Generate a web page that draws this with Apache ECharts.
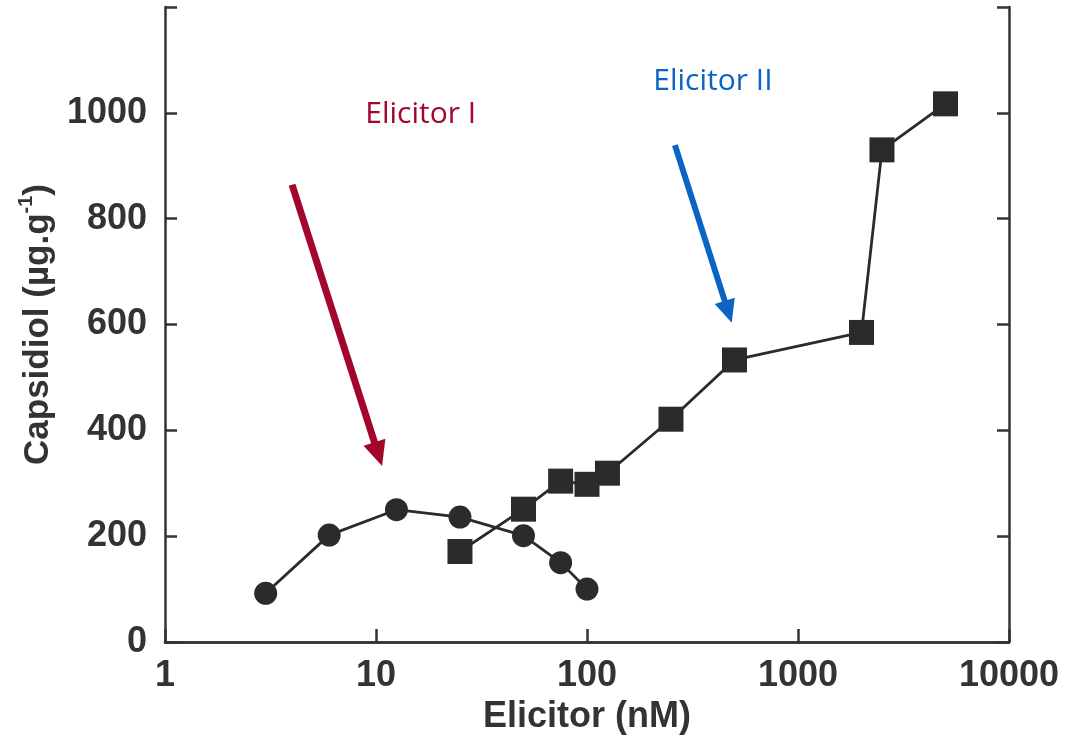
<!DOCTYPE html>
<html>
<head>
<meta charset="utf-8">
<script src="https://cdn.jsdelivr.net/npm/echarts@6/dist/echarts.min.js"></script>
<style>html,body{margin:0;padding:0;background:#fff}#c{width:1070px;height:738px}</style>
</head>
<body>
<div id="c"></div>
<script>
// Elicitor I (circles)
const elicitor1X = [3, 6, 12.5, 25, 50, 75, 100];
const elicitor1Y = [92, 202, 250, 236, 201, 150, 100];
// Elicitor II (squares)
const elicitor2X = [25, 50, 75, 100, 125, 250, 500, 2000, 2500, 5000];
const elicitor2Y = [171, 251, 304, 298, 319, 421, 533, 585, 930, 1017];
// axis ticks
const xTickLabels = [1, 10, 100, 1000, 10000];
const yTickLabels = [0, 200, 400, 600, 800, 1000];
// annotations (data coordinates)
const arrow1 = [[4.0, 864], [10.25, 355]];
const arrow2 = [[261, 939], [467, 624]];
const label1 = { text: 'Elicitor I', at: [16.3, 996] };
const label2 = { text: 'Elicitor II', at: [395, 1059] };

const ink = '#2b2b2b';
const red = '#A3062B';
const blue = '#0A64C4';
const tickFont = { fontFamily: 'Liberation Sans', fontWeight: 'bold', fontSize: 36, color: '#333' };

const chart = echarts.init(document.getElementById('c'));
chart.setOption({
  animation: false,
  backgroundColor: '#fff',
  grid: { left: 165, right: 61, top: 7, bottom: 96, containLabel: false, outerBoundsMode: 'none' },
  xAxis: [{
    type: 'log', logBase: 10, min: 1, max: 10000, position: 'bottom',
    axisLine: { lineStyle: { color: '#333', width: 2.5 } },
    axisTick: { inside: true, length: 13, lineStyle: { color: '#333', width: 2.5 } },
    axisLabel: Object.assign({ margin: 16, formatter: v => xTickLabels.includes(Math.round(v)) ? String(Math.round(v)) : '' }, tickFont),
    splitLine: { show: false },
    name: 'Elicitor (nM)', nameLocation: 'middle', nameGap: 68,
    nameTextStyle: { fontFamily: 'Liberation Sans', fontWeight: 'bold', fontSize: 36, color: '#333', verticalAlign: 'middle' }
  }, {
    type: 'log', logBase: 10, min: 1, max: 10000, position: 'top',
    axisLine: { lineStyle: { color: '#333', width: 2.5 } },
    axisTick: { show: false }, axisLabel: { show: false }, splitLine: { show: false }
  }],
  yAxis: [{
    type: 'value', min: 0, max: 1200, interval: 200, position: 'left',
    axisLine: { show: true, lineStyle: { color: '#333', width: 2.5 } },
    axisTick: { inside: true, length: 12, lineStyle: { color: '#333', width: 2.5 } },
    axisLabel: Object.assign({ margin: 18, formatter: v => yTickLabels.includes(v) ? String(v) : '' }, tickFont),
    splitLine: { show: false },
    name: '{n|Capsidiol (µg.g}{s|-1}{n|)}', nameLocation: 'middle', nameGap: 122,
    nameTextStyle: {
      verticalAlign: 'middle',
      rich: {
        n: { fontFamily: 'Liberation Sans', fontWeight: 'bold', fontSize: 35, color: '#333', verticalAlign: 'bottom', lineHeight: 40 },
        s: { fontFamily: 'Liberation Sans', fontWeight: 'bold', fontSize: 20, color: '#333', verticalAlign: 'top', lineHeight: 40 }
      }
    }
  }, {
    type: 'value', min: 0, max: 1200, interval: 200, position: 'right',
    axisLine: { show: true, lineStyle: { color: '#333', width: 2.5 } },
    axisTick: { inside: true, length: 12, lineStyle: { color: '#333', width: 2.5 } },
    axisLabel: { show: false }, splitLine: { show: false }
  }],
  series: [{
    name: 'Elicitor I', type: 'line',
    data: elicitor1X.map((x, i) => [x, elicitor1Y[i]]),
    symbol: 'circle', symbolSize: 23,
    lineStyle: { color: ink, width: 2.8 },
    itemStyle: { color: ink },
    z: 3,
    markLine: {
      silent: true, symbol: ['none', 'triangle'], symbolSize: [23, 25],
      label: { show: false },
      lineStyle: { color: red, width: 7, type: 'solid' },
      itemStyle: { color: red },
      data: [[{ coord: arrow1[0] }, { coord: arrow1[1] }]]
    },
    markPoint: {
      silent: true, symbol: 'circle', symbolSize: 0,
      label: { show: true, position: 'inside', formatter: p => p.name, fontFamily: 'Open Sans', fontSize: 30, color: red },
      data: [{ name: label1.text, coord: label1.at }]
    }
  }, {
    name: 'Elicitor II', type: 'line',
    data: elicitor2X.map((x, i) => [x, elicitor2Y[i]]),
    symbol: 'rect', symbolSize: 25,
    lineStyle: { color: ink, width: 2.8 },
    itemStyle: { color: ink },
    z: 3,
    markLine: {
      silent: true, symbol: ['none', 'triangle'], symbolSize: [21, 23],
      label: { show: false },
      lineStyle: { color: blue, width: 6, type: 'solid' },
      itemStyle: { color: blue },
      data: [[{ coord: arrow2[0] }, { coord: arrow2[1] }]]
    },
    markPoint: {
      silent: true, symbol: 'circle', symbolSize: 0,
      label: { show: true, position: 'inside', formatter: p => p.name, fontFamily: 'Open Sans', fontSize: 30, color: blue },
      data: [{ name: label2.text, coord: label2.at }]
    }
  }]
});
</script>
</body>
</html>
